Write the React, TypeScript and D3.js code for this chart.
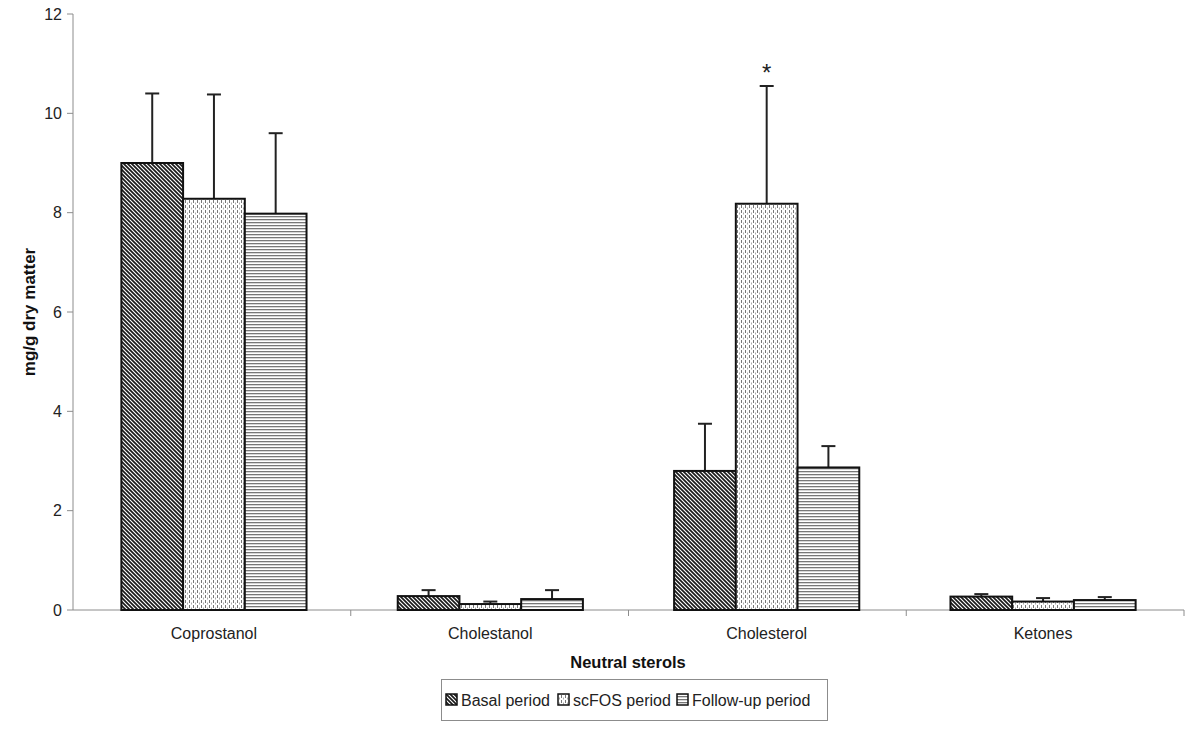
import React from "react";
import * as d3 from "d3";

const categories = ["Coprostanol", "Cholestanol", "Cholesterol", "Ketones"];
const seriesNames = ["Basal period", "scFOS period", "Follow-up period"];
const basalValues = [9.0, 0.28, 2.8, 0.27];
const basalErrTop = [10.4, 0.4, 3.75, 0.32];
const scfosValues = [8.28, 0.12, 8.18, 0.17];
const scfosErrTop = [10.38, 0.17, 10.55, 0.24];
const followValues = [7.98, 0.22, 2.87, 0.2];
const followErrTop = [9.6, 0.4, 3.3, 0.26];
const yTicks = [0, 2, 4, 6, 8, 10, 12];
const patternIds = ["pBasal", "pScfos", "pFollow"];

export default function App() {
  const W = 1200, H = 730;
  const x0 = 73, x1 = 1184, yTop = 14, yBot = 610;
  const y = d3.scaleLinear().domain([0, 12]).range([yBot, yTop]);
  const xb = d3.scaleBand<string>().domain(categories).range([x0, x1]).paddingInner(0.33).paddingOuter(0.175);
  const xs = d3.scaleBand<string>().domain(seriesNames).range([0, xb.bandwidth()]);
  const values = [basalValues, scfosValues, followValues];
  const errs = [basalErrTop, scfosErrTop, followErrTop];
  const font = "'Liberation Sans', Arial, Helvetica, sans-serif";
  const axisColor = "#8c8c8c";
  const legendX = [446, 558, 677];

  return (
    <div style={{ position: "absolute", left: 0, top: 0 }}>
      <svg width={W} height={H} style={{ display: "block", background: "#fff" }}>
        <defs>
          <pattern id="pBasal" patternUnits="userSpaceOnUse" width={4} height={4}>
            <rect width={4} height={4} fill="#fff" />
            <path d="M-1,-1 L5,5 M-1,3 L1,5 M3,-1 L5,1" stroke="#1a1a1a" strokeWidth={1.7} />
          </pattern>
          <pattern id="pScfos" patternUnits="userSpaceOnUse" width={4} height={5}>
            <rect width={4} height={5} fill="#fff" />
            <rect x={1} y={0} width={1} height={3} fill="#777" />
            <rect x={3} y={2.5} width={1} height={2} fill="#aaa" />
          </pattern>
          <pattern id="pFollow" patternUnits="userSpaceOnUse" width={4} height={3}>
            <rect width={4} height={3} fill="#fff" />
            <rect x={0} y={0} width={4} height={1.3} fill="#777" />
          </pattern>
        </defs>

        {/* axes */}
        <line x1={x0} y1={yTop} x2={x0} y2={yBot} stroke={axisColor} strokeWidth={1} />
        <line x1={x0} y1={yBot} x2={x1} y2={yBot} stroke={axisColor} strokeWidth={1} />
        {yTicks.map((t) => (
          <g key={t}>
            <line x1={x0 - 6} x2={x0} y1={y(t)} y2={y(t)} stroke={axisColor} />
            <text x={x0 - 11} y={y(t)} dy="0.35em" textAnchor="end" fontFamily={font} fontSize={16} fill="#222">{t}</text>
          </g>
        ))}
        {categories.map((c, i) => (
          <line key={"xt" + i} x1={x0 + ((x1 - x0) / categories.length) * (i + 1)} x2={x0 + ((x1 - x0) / categories.length) * (i + 1)} y1={yBot} y2={yBot + 6} stroke={axisColor} />
        ))}
        {categories.map((c) => (
          <text key={c} x={(xb(c) as number) + xb.bandwidth() / 2} y={639} textAnchor="middle" fontFamily={font} fontSize={16} fill="#222">{c}</text>
        ))}

        {/* bars */}
        {categories.map((c, ci) =>
          seriesNames.map((s, si) => {
            const bx = (xb(c) as number) + (xs(s) as number);
            const bw = xs.bandwidth();
            const v = values[si][ci];
            const e = errs[si][ci];
            const cx = bx + bw / 2;
            return (
              <g key={c + s}>
                <line x1={cx} x2={cx} y1={y(v)} y2={y(e)} stroke="#222" strokeWidth={2} />
                <line x1={cx - 7} x2={cx + 7} y1={y(e)} y2={y(e)} stroke="#222" strokeWidth={2} />
                <rect x={bx} y={y(v)} width={bw} height={yBot - y(v)} fill={`url(#${patternIds[si]})`} stroke="#111" strokeWidth={2} />
              </g>
            );
          })
        )}

        {/* significance */}
        <text x={(xb("Cholesterol") as number) + (xs("scFOS period") as number) + xs.bandwidth() / 2} y={y(10.55) - 5} textAnchor="middle" fontFamily={font} fontSize={24} fill="#222">*</text>

        {/* titles */}
        <text x={628} y={668} textAnchor="middle" fontFamily={font} fontSize={16.5} fontWeight="bold" fill="#111">Neutral sterols</text>
        <text transform={`translate(35,${y(6)}) rotate(-90)`} textAnchor="middle" fontFamily={font} fontSize={17} fontWeight="bold" fill="#111">mg/g dry matter</text>

        {/* legend */}
        <rect x={441.5} y={679.5} width={386} height={41} fill="#fff" stroke={axisColor} />
        {seriesNames.map((name, i) => (
          <g key={name}>
            <rect x={legendX[i]} y={694} width={11} height={11} fill={`url(#${patternIds[i]})`} stroke="#111" strokeWidth={1.5} />
            <text x={legendX[i] + 15} y={706} fontFamily={font} fontSize={16} fill="#222">{name}</text>
          </g>
        ))}
      </svg>
    </div>
  );
}
